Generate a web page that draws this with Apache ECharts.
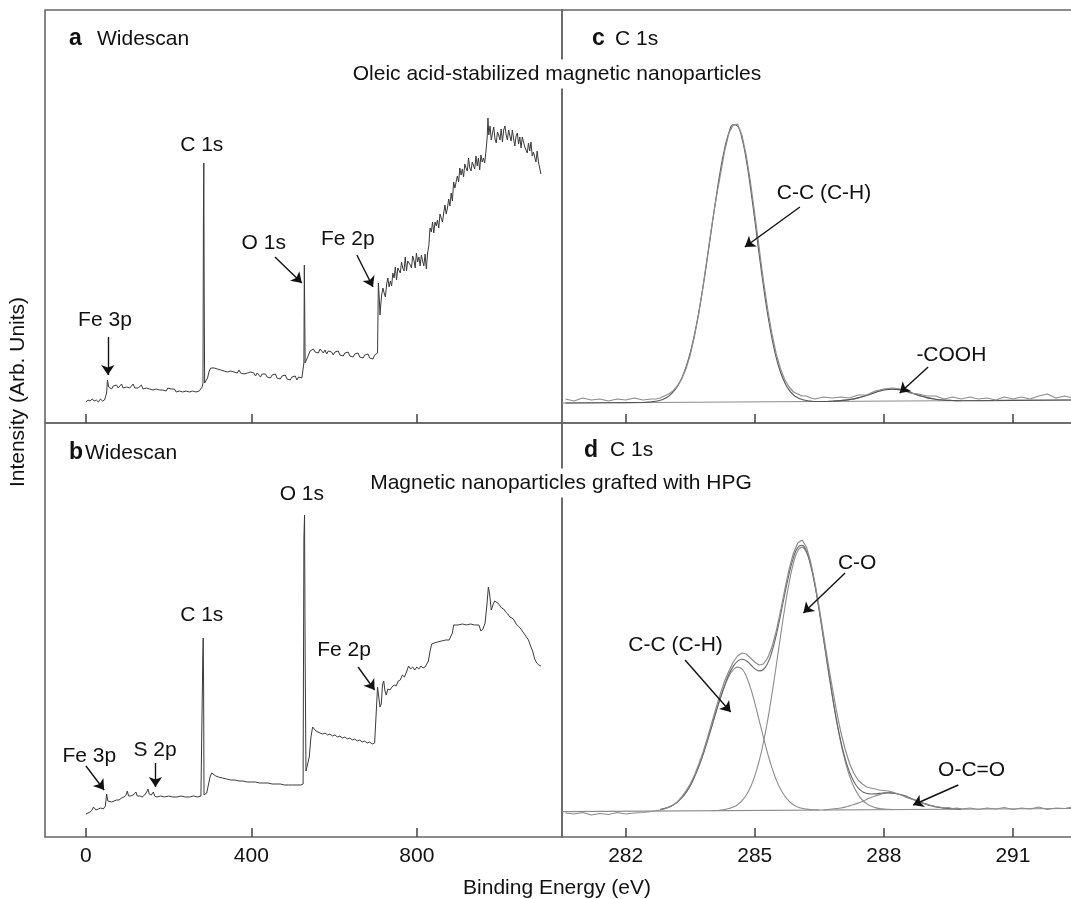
<!DOCTYPE html>
<html><head><meta charset="utf-8">
<script src="https://cdn.jsdelivr.net/npm/echarts@6/dist/echarts.min.js"></script>
<style>html,body{margin:0;padding:0;background:#fff}#c{width:1071px;height:899px}</style>
</head><body><div id="c"></div>
<script>
// ---------- tick labels ----------
const wideTicks = [0, 400, 800];
const c1sTicks = [282, 285, 288, 291];

// ---------- panel a: widescan, oleic acid-stabilized (energy eV, intensity a.u.) ----------
const scanA = [
[0,21],[5,23],[10,22],[15,24],[20,22],[25,23],[30,21],[35,24],[40,22],[45,23],[48,22],
[50,30],[52,43],[55,36],[58,38],[62,34],[66,37],[70,35],[74,38],[78,35],[82,36],[86,39],[90,35],[94,37],[98,36],[102,38],[106,35],[110,37],[114,39],[118,35],[122,37],[126,35],[130,36],[134,38],[138,34],[142,36],[146,35],[150,37],[154,34],[158,36],[162,33],[166,35],[170,34],[174,36],[178,33],[182,35],[186,33],[190,34],[194,32],[198,35],[202,33],[206,34],[210,32],[214,34],[218,31],[222,33],[226,32],[230,34],[234,31],[238,33],[242,32],[246,34],[250,31],[254,33],[258,32],[262,33],[266,31],[270,33],[274,32],[278,34],[281,36],
[283,40],[284,200],[285,260],[286,120],[287,40],
[290,38],[294,45],[298,52],[302,55],[306,57],[310,55],[314,57],[318,54],[322,56],[326,53],[330,55],[334,52],[338,54],[342,51],[346,53],[350,52],[354,54],[358,51],[362,52],[366,50],[370,53],[374,50],[378,52],[382,49],[386,51],[390,50],[394,48],[398,51],[402,49],[406,50],[410,47],[414,50],[418,48],[422,46],[426,49],[430,47],[434,49],[438,46],[442,48],[446,45],[450,48],[454,46],[458,49],[462,45],[466,47],[470,44],[474,47],[478,45],[482,48],[486,44],[490,46],[494,43],[498,46],[502,44],[506,47],[510,43],[514,46],[518,44],[522,45],[525,47],
[527,60],[528,158],[529,110],[530,60],[533,62],[538,68],[542,72],[546,70],[550,74],[554,71],[558,73],[562,70],[566,74],[570,72],[574,70],[578,73],[582,69],[586,72],[590,70],[594,71],[598,68],[602,71],[606,69],[610,72],[614,68],[618,70],[622,67],[626,70],[630,68],[634,71],[638,67],[642,69],[646,66],[650,69],[654,67],[658,70],[662,66],[666,68],[670,65],[674,68],[678,66],[682,69],[686,65],[690,67],[694,64],[698,68],[702,66],[705,70],
[707,140],[709,126],[711,108],[713,119],[715,128],[718,135],[721,130],[724,126],[727,139],[730,145],[733,136],[736,142],[739,137],[742,150],[745,145],[748,156],[751,143],[754,155],[757,153],[760,150],[763,161],[766,155],[769,152],[772,166],[775,152],[778,162],[781,164],[784,158],[787,155],[790,167],[793,163],[796,155],[799,170],[802,161],[805,166],[808,157],[811,168],[814,162],[817,157],[820,169],[823,154],
[826,170],[829,177],[832,195],[835,191],[838,201],[841,190],[844,201],[847,197],[850,203],[853,195],[856,209],[859,205],[862,201],[865,210],[868,218],[871,209],[874,215],[877,224],[880,217],[883,230],[886,222],[889,241],[892,235],[895,241],[898,247],[901,241],[904,255],[907,248],[910,254],[913,246],[916,259],[919,255],[922,252],[925,265],[928,255],[931,252],[934,261],[937,260],[940,254],[943,267],[946,257],[949,265],[952,253],[955,268],[958,261],[961,265],[964,260],[967,271],
[970,285],[972,305],[974,288],[977,297],[980,283],[983,290],[986,296],[989,284],[992,280],[995,291],[998,288],[1001,283],[1004,294],[1007,281],[1010,293],[1013,297],[1016,288],[1019,283],[1022,293],[1025,287],[1028,282],[1031,293],[1034,284],[1037,277],[1040,287],[1043,290],[1046,279],[1049,286],[1052,275],[1055,286],[1058,287],[1061,276],[1064,278],[1067,270],[1070,280],[1073,272],[1076,281],[1079,267],[1082,271],[1085,273],[1088,261],[1091,272],[1094,261],[1097,262],[1100,249]
];

// ---------- panel b: widescan, HPG grafted ----------
const scanB = [
[0,23],[5,24],[10,25],[15,27],[18,30],[21,31],[24,27],[30,28],[36,29],[42,28],[47,31],[50,43],[53,36],[56,34],[62,35],[68,36],[74,37],[80,37],[86,39],[92,40],[97,42],[100,46],[103,41],[108,41],[114,42],[118,44],[121,45],[124,41],[130,41],[136,40],[142,42],[147,45],[150,48],[153,43],[158,42],[163,45],[166,41],[172,40],[180,41],[190,40],[200,41],[210,40],[220,40],[230,41],[240,40],[250,40],[260,41],[270,40],[278,41],[281,43],
[282.5,180],[283.5,199],[284.5,150],[285.5,42],
[288,40],[292,44],[296,52],[300,60],[304,64],[308,63],[314,61],[320,60],[330,59],[340,58],[350,57],[360,57],[370,56],[380,56],[390,55],[400,55],[410,55],[420,54],[430,54],[440,54],[450,53],[460,53],[470,53],[480,52],[490,52],[500,52],[510,52],[520,52],[525,53],
[527,299],[528.5,322],[530,180],[532,66],[536,65],[540,80],[544,100],[548,110],[552,112],[556,106],[560,104],[566,104],[572,103],[578,104],[584,102],[590,103],[596,101],[602,102],[608,100],[614,101],[620,99],[626,100],[632,98],[638,99],[644,97],[650,98],[656,96],[662,97],[668,95],[674,96],[680,94],[686,95],[692,93],[698,94],[702,96],
[705,150],[708,140],[711,130],[714,133],[717,152],[720,156],[723,146],[726,142],[730,148],[735,147],[740,150],[745,152],[750,151],[755,156],[760,157],[765,162],[770,160],[775,165],[780,171],[785,168],[790,170],[795,167],[800,170],[805,168],[810,171],[815,169],[820,170],[824,168],
[828,176],[832,186],[836,193],[842,194],[850,195],[860,196],[870,197],[878,197],[882,199],[886,204],[889,212],[893,213],[900,212],[910,213],[920,212],[930,213],[940,212],[950,212],[955,206],[960,208],[965,214],[969,230],[973,250],[976,243],[980,227],[984,232],[988,236],[992,237],[996,234],[1000,233],[1005,229],[1010,228],[1015,225],[1020,223],[1025,220],[1030,219],[1035,217],[1040,213],[1045,211],[1050,209],[1055,206],[1060,203],[1065,200],[1070,197],[1075,191],[1080,186],[1085,178],[1090,174],[1095,172],[1100,171]
];

// ---------- panel c: C 1s, oleic acid ----------
const cRaw = [
[280.6,24],[280.8,22],[281.0,25],[281.2,23],[281.4,24],[281.6,22],[281.8,24],[282.0,23],[282.2,25],[282.4,23],[282.6,24],
[282.7,24],[282.8,25],[282.9,27],[283.0,29],[283.1,32],[283.2,37],[283.3,44],[283.4,54],[283.5,68],[283.6,87],[283.7,110],[283.8,137],[283.9,167],[284.0,197],[284.1,224],[284.2,248],[284.3,272],[284.4,290],[284.5,298],[284.6,299],[284.7,288],[284.8,268],[284.9,241],[285.0,209],[285.1,176],[285.2,143],[285.3,114],[285.4,89],[285.5,69],[285.6,54],[285.7,43],[285.8,36],[285.9,31],[286.0,29],[286.1,27],[286.2,27],[286.3,25],
[286.4,24],[286.6,26],[286.8,25],[287.0,26],[287.2,25],[287.4,28],[287.6,28],[287.8,32],[288.0,34],[288.2,35],[288.4,34],[288.6,30],[288.8,29],[289.0,27],[289.2,27],[289.4,24],[289.6,26],[289.8,24],[290.0,26],[290.2,24],[290.4,25],[290.6,23],[290.8,26],[291.0,24],[291.2,26],[291.4,24],[291.6,27],[291.8,29],[292.0,25],[292.2,27],[292.4,25]
];
const cFit = [
[280.6,20.0],[281.6,20.3],[282.4,20.5],[282.6,21.2],
[282.7,21.8],[282.8,22.7],[282.9,24.4],[283.0,26.9],[283.1,30.8],[283.2,36.6],[283.3,44.6],[283.4,55.7],[283.5,70.2],[283.6,88.7],[283.7,111.1],[283.8,136.9],[283.9,165.5],[284.0,195.5],[284.1,225.0],[284.2,252.1],[284.3,274.5],[284.4,290.4],[284.5,298.3],[284.6,297.0],[284.7,285.2],[284.8,263.8],[284.9,235.7],[285.0,203.2],[285.1,169.6],[285.2,137.5],[285.3,108.8],[285.4,84.6],[285.5,65.2],[285.6,50.7],[285.7,40.2],[285.8,32.9],[285.9,28.2],[286.0,25.3],[286.1,23.5],[286.2,22.5],[286.3,21.9],
[286.4,21.5],[286.6,21.5],[286.8,21.8],[287.0,22.4],[287.2,23.4],[287.4,25.1],[287.6,27.6],[287.8,30.6],[288.0,33.0],[288.2,33.9],[288.4,33.1],[288.6,30.7],[288.8,27.9],[289.0,25.4],[289.2,23.8],[289.4,22.9],[289.6,22.5],[289.8,22.3],[291.0,22.6],[292.4,23.0]
];
const cCooh = [
[286.6,21.5],[286.8,21.8],[287.0,22.4],[287.2,23.4],[287.4,25.1],[287.6,27.6],[287.8,30.6],[288.0,33.0],[288.2,33.9],[288.4,33.1],[288.6,30.7],[288.8,27.9],[289.0,25.4],[289.2,23.8],[289.4,22.9],[289.6,22.5],[289.8,22.3]
];
const cBase = [[280.52,20.0],[292.42,23.0]];

// ---------- panel d: C 1s, HPG grafted ----------
const dRaw = [
[280.6,24],[280.8,23],[281.0,24.5],[281.2,22],[281.4,23.5],[281.6,22.5],[281.8,24.5],[282.0,23],[282.2,24],[282.4,24.5],[282.6,25.5],
[282.8,27],[282.9,28],[283.0,30],[283.1,32],[283.2,35],[283.3,40],[283.4,46],[283.5,53],[283.6,62],[283.7,73],[283.8,85],[283.9,99],[284.0,114],[284.1,129],[284.2,143],[284.3,156],[284.4,166],[284.5,175],[284.6,181],[284.7,184],[284.8,183],[284.9,179],[285.0,175],[285.1,172],[285.2,173],[285.3,179],[285.4,190],[285.5,206],[285.6,226],[285.7,248],[285.8,268],[285.9,284],[286.0,294],[286.1,297],[286.2,290],[286.3,275],[286.4,254],[286.5,229],[286.6,202],[286.7,175],[286.8,150],[286.9,126],[287.0,105],[287.1,88],[287.2,74],[287.3,64],[287.4,57],[287.5,53],[287.6,50],[287.7,49],[287.8,48],[287.9,47],[288.0,46.5],[288.1,46],[288.2,45],[288.3,43.5],[288.4,42],[288.5,40],[288.6,38.5],[288.7,37],[288.8,35],[288.9,34],[289.0,33],[289.1,31.5],[289.2,30.5],[289.3,30],[289.4,29],[289.5,29.5],[289.6,28.5],[289.7,29],[289.8,28],
[290.0,29],[290.2,27.5],[290.4,29],[290.6,28],[290.8,29.5],[291.0,27.5],[291.2,29],[291.4,28],[291.6,30],[291.8,27.5],[292.0,29],[292.2,28.5],[292.4,30]
];
const dFit = [
[282.8,27.5],[282.9,28.5],[283.0,29.8],[283.1,31.9],[283.2,34.9],[283.3,39.0],[283.4,44.4],[283.5,51.3],[283.6,60.1],[283.7,70.6],[283.8,82.7],[283.9,96.2],[284.0,110.5],[284.1,125.0],[284.2,139.0],[284.3,151.4],[284.4,162.7],[284.5,170.6],[284.6,175.7],[284.7,177.8],[284.8,176.3],[284.9,172.5],[285.0,168.4],[285.1,166.1],[285.2,167.5],[285.3,173.8],[285.4,185.5],[285.5,202.0],[285.6,222.1],[285.7,243.4],[285.8,263.4],[285.9,279.4],[286.0,289.5],[286.1,291.7],[286.2,285.7],[286.3,272.0],[286.4,251.5],[286.5,226.1],[286.6,198.1],[286.7,169.6],[286.8,142.3],[286.9,117.3],[287.0,95.9],[287.1,78.6],[287.2,65.4],[287.3,55.8],[287.4,49.3],[287.5,45.4],[287.6,43.7],[287.7,43.0],[287.8,43.1],[287.9,43.6],[288.0,44.1],[288.1,44.3],[288.2,43.9],[288.3,43.3],[288.4,42.3],[288.5,40.9],[288.6,39.2],[288.7,37.4],[288.8,35.7],[288.9,34.0],[289.0,32.5],[289.1,31.2],[289.2,30.3],[289.3,29.5],[289.4,28.9],[289.5,28.5],[289.6,28.3],[289.7,28.1],[289.8,27.8]
];
const dCC = [
[282.8,27.5],[282.9,28.5],[283.0,29.8],[283.1,31.9],[283.2,34.9],[283.3,39.0],[283.4,44.4],[283.5,51.3],[283.6,60.1],[283.7,70.6],[283.8,82.7],[283.9,96.2],[284.0,110.5],[284.1,125.0],[284.2,138.7],[284.3,150.8],[284.4,160.7],[284.5,167.2],[284.6,169.9],[284.7,168.2],[284.8,161.1],[284.9,149.3],[285.0,134.1],[285.1,117.1],[285.2,99.9],[285.3,83.6],[285.4,69.2],[285.5,57.2],[285.6,47.8],[285.7,40.7],[285.8,35.7],[285.9,32.2],[286.0,30.1],[286.1,28.7],[286.2,27.9],[286.3,27.4],[286.4,27.2],[286.5,27.0]
];
const dCO = [
[284.0,26.4],[284.1,26.5],[284.2,26.9],[284.3,27.5],[284.4,28.5],[284.5,29.9],[284.6,32.3],[284.7,36.1],[284.8,41.8],[284.9,49.8],[285.0,60.9],[285.1,75.6],[285.2,94.3],[285.3,116.9],[285.4,143.0],[285.5,171.5],[285.6,201.1],[285.7,229.5],[285.8,254.5],[285.9,274.0],[286.0,286.3],[286.1,289.9],[286.2,284.7],[286.3,271.5],[286.4,251.3],[286.5,226.1],[286.6,198.1],[286.7,169.2],[286.8,141.4],[286.9,116.0],[287.0,94.0],[287.1,75.8],[287.2,61.5],[287.3,50.6],[287.4,42.6],[287.5,37.0],[287.6,33.4],[287.7,30.9],[287.8,29.4],[287.9,28.5],[288.0,28.0],[288.1,27.7],[288.2,27.4]
];
const dOCO = [
[286.6,27.0],[286.8,28.0],[286.9,28.4],[287.0,29.0],[287.1,29.9],[287.2,31.1],[287.3,32.4],[287.4,33.9],[287.5,35.6],[287.6,37.6],[287.7,39.4],[287.8,41.0],[287.9,42.4],[288.0,43.5],[288.1,44.0],[288.2,43.9],[288.3,43.3],[288.4,42.3],[288.5,40.9],[288.6,39.2],[288.7,37.4],[288.8,35.7],[288.9,34.0],[289.0,32.5],[289.1,31.2],[289.2,30.3],[289.3,29.5],[289.4,28.9],[289.5,28.5],[289.6,28.3],[289.7,28.1],[289.8,27.8]
];
const dBase = [[280.52,25.4],[292.42,28.5]];

// ---------- annotations (data coordinates) ----------
const labelsA = [['C 1s',280,278],['O 1s',430,180],['Fe 2p',633,184],['Fe 3p',46,103]];
const arrowsA = [[[457,166],[522,140]],[[655,168],[694,136]],[[53,86],[53,48]]];
const labelsB = [['O 1s',522,343],['C 1s',280,222],['Fe 2p',624,187],['Fe 3p',8,81],['S 2p',167,87]];
const arrowsB = [[[658,170],[698,147]],[[0,71],[44,47]],[[168,74],[168,50]]];
const labelsC = [['C-C (C-H)',286.61,230],['-COOH',289.57,68]];
const arrowsC = [[[286.05,216],[284.77,176]],[[289.03,56],[288.37,30]]];
const labelsD = [['C-O',287.38,274],['C-C (C-H)',283.16,192],['O-C=O',290.04,67]];
const arrowsD = [[[287.10,264],[286.13,224]],[[283.38,177],[284.44,125]],[[289.73,52],[288.68,32]]];

const FONT = '"Liberation Sans", Arial, Helvetica, sans-serif';
const TXT = '#111';

function markPts(list){
  return {silent:true, animation:false, symbol:'rect', symbolSize:1,
    itemStyle:{color:'rgba(0,0,0,0)'},
    label:{show:true, position:'inside', color:TXT, fontSize:21, fontFamily:FONT, formatter:p=>p.name},
    data:list.map(l=>({name:l[0], coord:[l[1],l[2]]}))};
}
function markArr(list){
  return {silent:true, animation:false, symbol:['none','arrow'], symbolSize:10,
    lineStyle:{color:'#111', width:1.4, type:'solid'}, itemStyle:{color:'#111'}, label:{show:false}, emphasis:{disabled:true},
    data:list.map(a=>[{coord:a[0]},{coord:a[1]}])};
}
function line(data, g, color, width, smooth, extra){
  return Object.assign({type:'line', xAxisIndex:g, yAxisIndex:g, data:data, symbol:'none',
    smooth:smooth, silent:true, animation:false, clip:true,
    lineStyle:{color:color, width:width}}, extra||{});
}
const gridStyle = {show:true, borderColor:'#666', borderWidth:1.6, backgroundColor:'rgba(0,0,0,0)', outerBoundsMode:'none', containLabel:false};
function xAx(g, min, max, ticks, labels){
  return {gridIndex:g, type:'value', min:min, max:max, axisLine:{show:false}, splitLine:{show:false},
    axisTick:{show:true, inside:true, length:9, customValues:ticks, lineStyle:{color:'#444', width:1.5}},
    axisLabel:{show:labels, customValues:ticks, margin:9, fontSize:21, color:TXT, fontFamily:FONT}};
}
function yAx(g, max){ return {gridIndex:g, type:'value', min:0, max:max, show:false}; }

function txt(x, y, text, size, bold, extra){
  return Object.assign({type:'text', x:x, y:y, z:100, silent:true,
    style:{text:text, font:(bold?'bold ':'')+size+'px '+FONT, fill:TXT,
      align:'left', verticalAlign:'middle', textAlign:'left', textVerticalAlign:'middle'}}, extra||{});
}

const chart = echarts.init(document.getElementById('c'), null, {renderer:'canvas'});
chart.setOption({
  animation:false,
  backgroundColor:'#fff',
  textStyle:{fontFamily:FONT},
  grid:[
    Object.assign({left:45, top:10, width:517, height:413}, gridStyle),
    Object.assign({left:45, top:423, width:517, height:414}, gridStyle),
    Object.assign({left:562, top:10, width:512, height:413}, gridStyle),
    Object.assign({left:562, top:423, width:512, height:414}, gridStyle)
  ],
  xAxis:[
    xAx(0, -99, 1151, wideTicks, false),
    xAx(1, -99, 1151, wideTicks, true),
    xAx(2, 280.52, 292.42, c1sTicks, false),
    xAx(3, 280.52, 292.42, c1sTicks, true)
  ],
  yAxis:[yAx(0,413), yAx(1,414), yAx(2,413), yAx(3,414)],
  series:[
    line(scanA, 0, '#3a3a3a', 1, false, {markPoint:markPts(labelsA), markLine:markArr(arrowsA)}),
    line(scanB, 1, '#3a3a3a', 1, false, {markPoint:markPts(labelsB), markLine:markArr(arrowsB)}),
    line(cBase, 2, '#8c8c8c', 1.2, false),
    line(cCooh, 2, '#8c8c8c', 1.1, true),
    line(cFit, 2, '#555', 1.1, true),
    line(cRaw, 2, '#8c8c8c', 1.2, false, {markPoint:markPts(labelsC), markLine:markArr(arrowsC)}),
    line(dBase, 3, '#8c8c8c', 1.2, false),
    line(dCC, 3, '#8c8c8c', 1.1, true),
    line(dCO, 3, '#8c8c8c', 1.1, true),
    line(dOCO, 3, '#8c8c8c', 1.1, true),
    line(dFit, 3, '#666', 1.1, true),
    line(dRaw, 3, '#8c8c8c', 1.2, false, {markPoint:markPts(labelsD), markLine:markArr(arrowsD)})
  ],
  graphic:[
    txt(69, 39, 'a', 23, true), txt(97, 39, 'Widescan', 21, false),
    txt(69, 453, 'b', 23, true), txt(85, 453, 'Widescan', 21, false),
    txt(592, 39, 'c', 23, true), txt(615, 39, 'C 1s', 21, false),
    txt(584, 451, 'd', 23, true), txt(610, 450, 'C 1s', 21, false),
    {type:'text', x:557, y:74, z:100, silent:true, style:{text:'Oleic acid-stabilized magnetic nanoparticles', font:'21px '+FONT, fill:TXT, align:'center', verticalAlign:'middle', textAlign:'center', textVerticalAlign:'middle', backgroundColor:'#fff', padding:[4,3]}},
    {type:'text', x:561, y:483, z:100, silent:true, style:{text:'Magnetic nanoparticles grafted with HPG', font:'21px '+FONT, fill:TXT, align:'center', verticalAlign:'middle', textAlign:'center', textVerticalAlign:'middle', backgroundColor:'#fff', padding:[4,3]}},
    {type:'text', x:18, y:392, z:100, rotation:Math.PI/2, silent:true, style:{text:'Intensity (Arb. Units)', font:'21px '+FONT, fill:TXT, align:'center', verticalAlign:'middle', textAlign:'center', textVerticalAlign:'middle'}},
    {type:'text', x:557, y:888, z:100, silent:true, style:{text:'Binding Energy (eV)', font:'21px '+FONT, fill:TXT, align:'center', verticalAlign:'middle', textAlign:'center', textVerticalAlign:'middle'}}
  ]
});
</script>
</body></html>
